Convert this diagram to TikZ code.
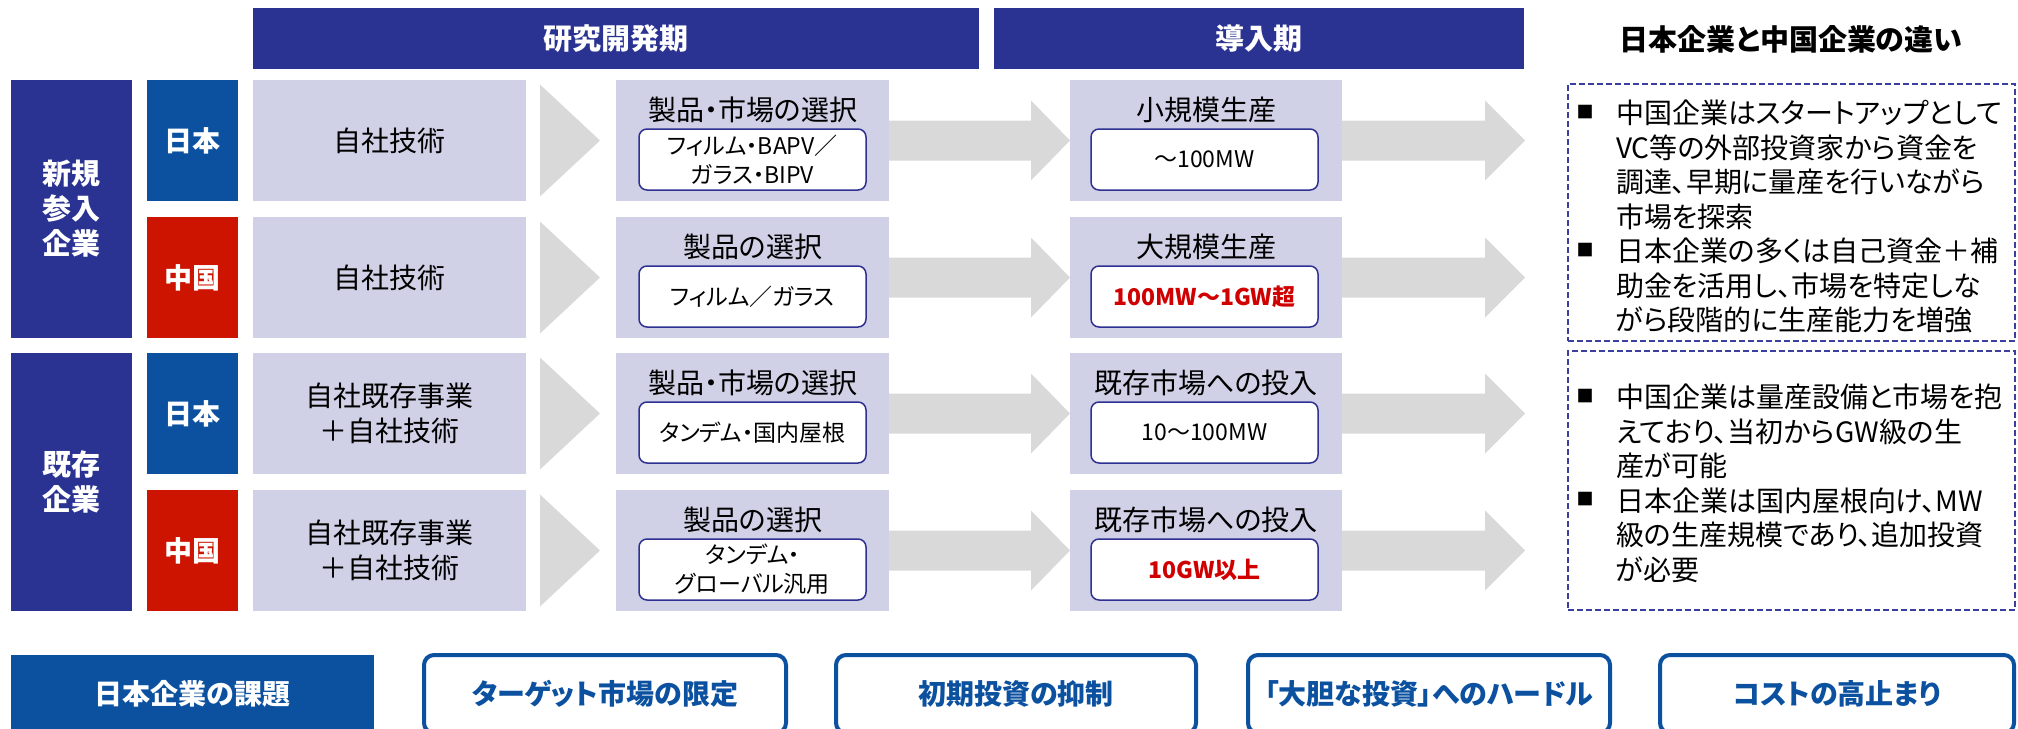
\documentclass[tikz,border=0pt]{standalone}
\usepackage{fontspec}
\setmainfont{Noto Sans CJK JP}[RawFeature=+palt]
\usetikzlibrary{calc}
\definecolor{navy}{HTML}{2A3392}
\definecolor{jpblue}{HTML}{0B51A0}
\definecolor{cnred}{HTML}{CC1400}
\definecolor{lav}{HTML}{D0D1E6}
\definecolor{arrowgray}{HTML}{D9D9D9}
\definecolor{navyline}{HTML}{2E3192}
\definecolor{dashline}{HTML}{3B40A0}
\definecolor{redtext}{HTML}{D00000}
\newcommand\fsz[2]{\fontsize{#1}{#2}\selectfont}
\newcommand\blockarrow[3]{%
  \fill[arrowgray] ($(#1.east)+(0,-20)$) -- ($(#2)+(-#3,-20)$) -- ($(#2)+(-#3,-40)$) -- (#2)
    -- ($(#2)+(-#3,40)$) -- ($(#2)+(-#3,20)$) -- ($(#1.east)+(0,20)$) -- cycle;}
\newcommand\chevron[1]{%
  \fill[arrowgray] ($(#1.east)+(14,-56)$) -- ($(#1.east)+(74,0)$) -- ($(#1.east)+(14,56)$) -- cycle;}
\begin{document}
\begin{tikzpicture}[x=1pt,y=-1pt,
  lbl/.style={inner sep=0pt, outer sep=0pt, align=center},
  rect/.style={lbl, anchor=north west},
  hdr/.style={rect, fill=navy, text=white, font=\bfseries\fsz{29}{35}},
  grp/.style={rect, fill=navy, text=white, font=\bfseries\fsz{29}{35}, minimum width=121pt, minimum height=258pt},
  ctry/.style={rect, text=white, font=\bfseries\fsz{28}{34}, minimum width=91pt, minimum height=121pt},
  lavbox/.style={rect, fill=lav, minimum width=273pt, minimum height=121pt, font=\fsz{28}{35}},
  ttl/.style={lbl, font=\fsz{28}{34}},
  whitebox/.style={rect, fill=white, draw=navyline, line width=1.5pt, rounded corners=8pt,
    minimum width=227pt, minimum height=61pt, font=\fsz{23}{29}},
  redval/.style={text=redtext, font=\bfseries\fsz{23}{29}},
  dbox/.style={rect, draw=dashline, line width=1.5pt, dash pattern=on 6pt off 3pt, minimum width=447pt},
  bul/.style={lbl, font=\fsz{17}{17}},
  btext/.style={lbl, anchor=west, align=left, font=\fsz{28}{34.5}},
  issue/.style={rect, draw=jpblue, line width=4pt, rounded corners=10pt, fill=white,
    text=jpblue, font=\bfseries\fsz{28}{34}, minimum height=78pt}
]
\useasboundingbox (0,0) rectangle (2018,728);
\clip (0,0) rectangle (2018,728);

% headers
\node[hdr, minimum width=726pt, minimum height=61pt] (hdrA) at (253,8) {研究開発期};
\node[hdr, minimum width=530pt, minimum height=61pt] (hdrB) at (994,8) {導入期};
\node[lbl, font=\bfseries\fsz{29}{35}] (title) at (1791,39) {日本企業と中国企業の違い};

% groups
\node[grp] (grpNew) at (11,80) {新規\\参入\\企業};
\node[grp] (grpOld) at (11,353) {既存\\企業};

% countries
\node[ctry, fill=jpblue] (jp1) at (147,80) {日本};
\node[ctry, fill=cnred] (cn1) at (147,217) {中国};
\node[ctry, fill=jpblue] (jp2) at (147,353) {日本};
\node[ctry, fill=cnred] (cn2) at (147,490) {中国};

% source boxes
\node[lavbox] (src1) at (253,80) {自社技術};
\node[lavbox] (src2) at (253,217) {自社技術};
\node[lavbox] (src3) at (253,353) {自社既存事業\\＋自社技術};
\node[lavbox] (src4) at (253,490) {自社既存事業\\＋自社技術};

\chevron{src1}
\chevron{src2}
\chevron{src3}
\chevron{src4}

% selection boxes
\node[lavbox] (sel1) at (616,80) {};
\node[lavbox] (sel2) at (616,217) {};
\node[lavbox] (sel3) at (616,353) {};
\node[lavbox] (sel4) at (616,490) {};
\node[ttl] (sel1t) at (752.5,110) {製品・市場の選択};
\node[ttl] (sel2t) at (752.5,247) {製品の選択};
\node[ttl] (sel3t) at (752.5,383) {製品・市場の選択};
\node[ttl] (sel4t) at (752.5,520) {製品の選択};
\node[whitebox] (sel1b) at (639,129) {フィルム・BAPV／\\ガラス・BIPV};
\node[whitebox] (sel2b) at (639,266) {フィルム／ガラス};
\node[whitebox] (sel3b) at (639,402) {タンデム・国内屋根};
\node[whitebox] (sel4b) at (639,539) {タンデム・\\グローバル汎用};

% market boxes
\node[lavbox, minimum width=272pt] (mkt1) at (1070,80) {};
\node[lavbox, minimum width=272pt] (mkt2) at (1070,217) {};
\node[lavbox, minimum width=272pt] (mkt3) at (1070,353) {};
\node[lavbox, minimum width=272pt] (mkt4) at (1070,490) {};
\node[ttl] (mkt1t) at (1206,110) {小規模生産};
\node[ttl] (mkt2t) at (1206,247) {大規模生産};
\node[ttl] (mkt3t) at (1206,383) {既存市場への投入};
\node[ttl] (mkt4t) at (1206,520) {既存市場への投入};
\node[whitebox] (mkt1b) at (1091,129) {～100MW};
\node[whitebox, redval] (mkt2b) at (1091,266) {100MW～1GW超};
\node[whitebox] (mkt3b) at (1091,402) {10～100MW};
\node[whitebox, redval] (mkt4b) at (1091,539) {10GW以上};

% arrows
\blockarrow{sel1}{mkt1.west}{39}
\blockarrow{sel2}{mkt2.west}{39}
\blockarrow{sel3}{mkt3.west}{39}
\blockarrow{sel4}{mkt4.west}{39}
\coordinate (tip1) at (1525,140.5);
\coordinate (tip2) at (1525,277.5);
\coordinate (tip3) at (1525,413.5);
\coordinate (tip4) at (1525,550.5);
\blockarrow{mkt1}{tip1}{40}
\blockarrow{mkt2}{tip2}{40}
\blockarrow{mkt3}{tip3}{40}
\blockarrow{mkt4}{tip4}{40}

% comparison boxes
\node[dbox, minimum height=257pt] (dA) at (1568,84) {};
\node[dbox, minimum height=259pt] (dB) at (1568,351) {};
\node[bul] (bA1) at (1585,112) {■};
\node[bul] (bA2) at (1585,250) {■};
\node[bul] (bB1) at (1585,396) {■};
\node[bul] (bB2) at (1585,499) {■};
\node[btext] (tA1) at (1616,164.75) {中国企業はスタートアップとして\\VC等の外部投資家から資金を\\調達、早期に量産を行いながら\\市場を探索};
\node[btext] (tA2) at (1616,285.5) {日本企業の多くは自己資金＋補\\助金を活用し、市場を特定しな\\がら段階的に生産能力を増強};
\node[btext] (tB1) at (1616,431.5) {中国企業は量産設備と市場を抱\\えており、当初からGW級の生\\産が可能};
\node[btext] (tB2) at (1616,535) {日本企業は国内屋根向け、MW\\級の生産規模であり、追加投資\\が必要};

% issues row
\node[rect, fill=jpblue, text=white, font=\bfseries\fsz{28}{34}, minimum width=363pt, minimum height=78pt] (issue) at (11,655) {日本企業の課題};
\node[issue, minimum width=362pt] (i1) at (424,655) {ターゲット市場の限定};
\node[issue, minimum width=360pt] (i2) at (836,655) {初期投資の抑制};
\node[issue, minimum width=362pt] (i3) at (1248,655) {「大胆な投資」へのハードル};
\node[issue, minimum width=354pt] (i4) at (1660,655) {コストの高止まり};
\end{tikzpicture}
\end{document}
